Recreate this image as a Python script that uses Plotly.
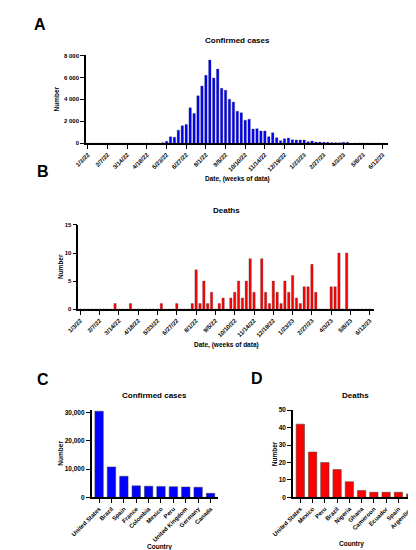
import pandas as pd
import plotly.graph_objects as go

W, H = 416, 550

# ---- Data ----
week_start = "2022-01-03"
n_weeks = 76
weekly_cases = [0]*19 + [
    60, 180, 600, 550, 1200, 1600, 1720, 3230, 2720, 4320,
    5220, 6190, 7580, 5950, 6760, 5010, 4830, 4020, 3750, 2930,
    2780, 2110, 2200, 1300, 1330, 1120, 1120, 600, 970, 510,
    240, 420, 480, 330, 300, 300, 300, 150, 210, 120,
    120, 90, 90, 60, 60, 60, 90, 90, 0, 0,
    30, 30, 0, 0, 0, 0, 0]
weekly_deaths = [
    0, 0, 0, 0, 0, 0, 0, 0, 0, 1,
    0, 0, 0, 1, 0, 0, 0, 0, 0, 0,
    0, 1, 0, 0, 0, 1, 0, 0, 0, 1,
    7, 1, 5, 1, 3, 0, 1, 2, 0, 2,
    3, 5, 2, 5, 9, 3, 0, 9, 3, 1,
    5, 3, 1, 5, 3, 6, 2, 1, 4, 4,
    8, 3, 0, 0, 0, 4, 4, 10, 0, 10,
    0, 0, 0, 0, 0, 0]
date_ticks = ["1/3/22", "2/7/22", "3/14/22", "4/18/22", "5/23/22", "6/27/22",
              "8/1/22", "9/5/22", "10/10/22", "11/14/22", "12/19/22", "1/23/23",
              "2/27/23", "4/3/23", "5/8/23", "6/12/23"]
cases_ytick_vals = [0, 2000, 4000, 6000, 8000]
cases_ytick_text = ["0", "2 000", "4 000", "6 000", "8 000"]

countries_cases = ["United States", "Brazil", "Spain", "France", "Colombia",
                   "Mexico", "Peru", "United Kingdom", "Germany", "Canada"]
cases_by_country = [30500, 10800, 7500, 4100, 4000, 3900, 3800, 3700, 3600, 1450]
countries_deaths = ["United States", "Mexico", "Peru", "Brazil", "Nigeria",
                    "Ghana", "Cameroon", "Ecuador", "Spain", "Argentina"]
deaths_by_country = [42, 26, 20, 16, 9, 4, 3, 3, 3, 2]

weeks = pd.date_range(week_start, periods=n_weeks, freq="7D")
DAY = 86400000

def px_x(p):
    return p / W

def px_y(p):
    return 1 - p / H

FONT = "Liberation Sans, Arial, sans-serif"
BLUE = "#0000ff"
RED = "#ff0000"
EDGE = "#3a3a3a"

fig = go.Figure()
fig.add_trace(go.Bar(x=weeks, y=weekly_cases, width=0.62*7*DAY,
                     marker=dict(color=BLUE, line=dict(color=EDGE, width=0.3)),
                     xaxis="x", yaxis="y"))
fig.add_trace(go.Bar(x=weeks, y=weekly_deaths, width=0.62*7*DAY,
                     marker=dict(color=RED, line=dict(color=EDGE, width=0.3)),
                     xaxis="x2", yaxis="y2"))
fig.add_trace(go.Bar(x=countries_cases, y=cases_by_country, width=0.68,
                     marker=dict(color=BLUE, line=dict(color=EDGE, width=0.5)),
                     xaxis="x3", yaxis="y3"))
fig.add_trace(go.Bar(x=countries_deaths, y=deaths_by_country, width=0.68,
                     marker=dict(color=RED, line=dict(color=EDGE, width=0.5)),
                     xaxis="x4", yaxis="y4"))

axis_common = dict(showline=True, linecolor="black", linewidth=1.5, ticks="outside",
                   ticklen=4, tickwidth=1.3, tickcolor="black", showgrid=False, zeroline=False,
                   fixedrange=True)

tick_dates = list(weeks[::5])

fig.update_layout(
    width=W, height=H, margin=dict(l=0, r=0, t=0, b=0),
    paper_bgcolor="white", plot_bgcolor="white", showlegend=False,
    font=dict(family=FONT, color="black"),
    xaxis=dict(domain=[px_x(60), px_x(378)], anchor="y", type="date",
               range=[weeks[0] - pd.Timedelta(days=3.5), weeks[0] + pd.Timedelta(days=7*76.3)],
               tickvals=tick_dates, ticktext=date_ticks, tickangle=-45,
               tickfont=dict(size=6, weight="bold"), **axis_common),
    yaxis=dict(domain=[px_y(133), px_y(44)], anchor="x", range=[0, 8000],
               tickvals=cases_ytick_vals, ticktext=cases_ytick_text,
               tickfont=dict(size=6, weight="bold"), **axis_common),
    xaxis2=dict(domain=[px_x(52), px_x(363)], anchor="y2", type="date",
                range=[weeks[0] - pd.Timedelta(days=3.5), weeks[0] + pd.Timedelta(days=7*76)],
                tickvals=tick_dates, ticktext=date_ticks, tickangle=-45,
                tickfont=dict(size=6, weight="bold"), **axis_common),
    yaxis2=dict(domain=[px_y(301), px_y(215.7)], anchor="x2", range=[0, 15],
                tickvals=[0, 5, 10, 15], tickfont=dict(size=6, weight="bold"), **axis_common),
    xaxis3=dict(domain=[px_x(66), px_x(199)], anchor="y3", type="category", tickangle=-45,
                range=[-0.6, 9.6], tickfont=dict(size=6, weight="bold"), **axis_common),
    yaxis3=dict(domain=[px_y(491.7), px_y(403)], anchor="x3", range=[0, 31000],
                tickvals=[0, 10000, 20000, 30000], tickformat=",d",
                tickfont=dict(size=6.5, weight="bold"), **axis_common),
    xaxis4=dict(domain=[px_x(278), px_x(411)], anchor="y4", type="category", tickangle=-45,
                range=[-0.6, 9.7], tickfont=dict(size=6, weight="bold"), **axis_common),
    yaxis4=dict(domain=[px_y(491.7), px_y(403.3)], anchor="x4", range=[0, 50],
                tickvals=[0, 10, 20, 30, 40, 50], tickfont=dict(size=6.5, weight="bold"), **axis_common),
)

def ann(text, x, y, size, angle=0):
    fig.add_annotation(text=text, x=px_x(x), y=px_y(y), xref="paper", yref="paper",
                       xanchor="center", yanchor="middle", showarrow=False, textangle=angle,
                       font=dict(size=size, family=FONT, color="black", weight="bold"))

ann("A", 12, 13, 16)
ann("B", 15, 162, 16)
ann("C", 15, 372, 16)
ann("D", 240, 371, 16)

ann("Confirmed cases", 220, 29, 8)
ann("Number", 29, 88, 6.5, -90)
ann("Date, (weeks of data)", 220, 169, 6.5)

ann("Deaths", 208, 201, 8)
ann("Number", 33, 258, 6.5, -90)
ann("Date, (weeks of data)", 208, 337, 6.5)

ann("Confirmed cases", 132, 388, 8)
ann("Number", 33, 447, 6.5, -90)
ann("Country", 137, 542, 6.5)

ann("Deaths", 344, 388, 8)
ann("Number", 258, 447, 6.5, -90)
ann("Country", 340, 539, 6.5)

fig.write_html("out.html")
